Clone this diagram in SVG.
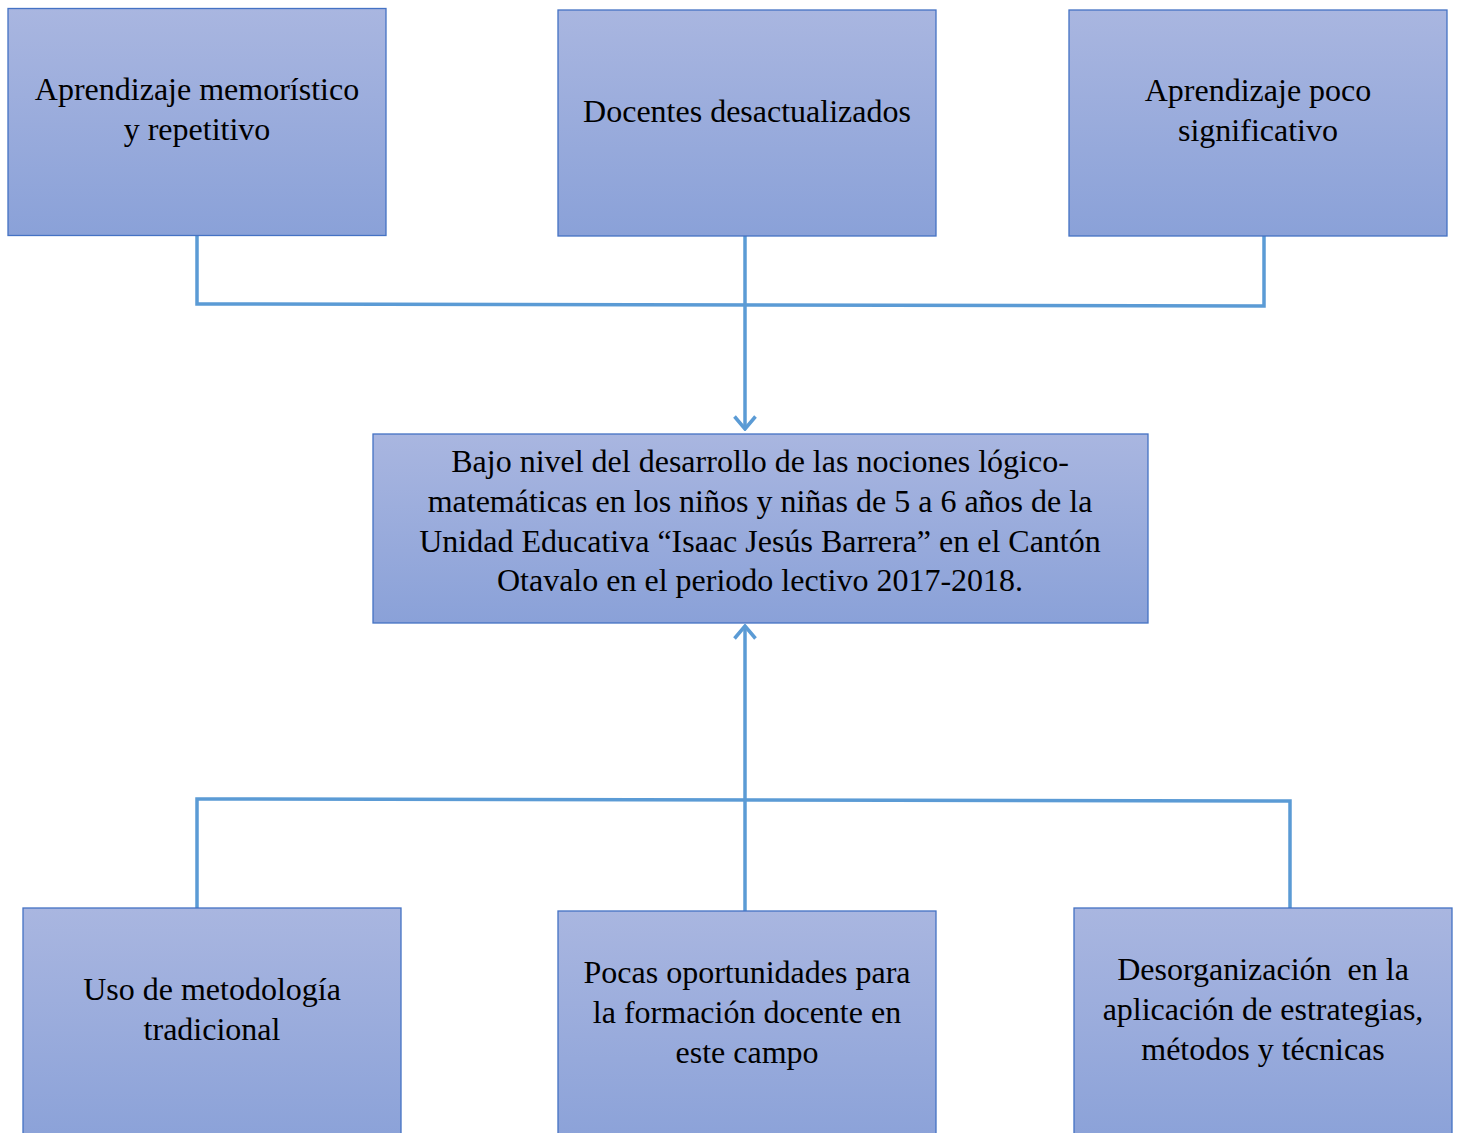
<svg xmlns="http://www.w3.org/2000/svg" width="1459" height="1133" viewBox="0 0 1459 1133">
<defs>
<linearGradient id="g" x1="0" y1="0" x2="0" y2="1">
<stop offset="0" stop-color="#A9B6E0"/>
<stop offset="1" stop-color="#8AA1D8"/>
</linearGradient>
<marker id="arr" viewBox="0 0 16 24" refX="14" refY="12" markerWidth="16" markerHeight="24" markerUnits="userSpaceOnUse" orient="auto">
<path d="M1.5,1.5 L14,12 L1.5,22.5" fill="none" stroke="#5B9BD5" stroke-width="3.5"/>
</marker>
<style>
.box{fill:url(#g);stroke:#4472C4;stroke-width:1.3}
.t{font-family:"Liberation Serif","Times New Roman",serif;font-size:32px;fill:#000;text-anchor:middle}
.c{fill:none;stroke:#5B9BD5;stroke-width:3.5}
</style>
</defs>
<rect width="1459" height="1133" fill="#fff"/>
<g id="connectors">
<polyline class="c" points="197,235 197,304 1264,306 1264,236"/>
<line class="c" x1="745" y1="236" x2="745" y2="429" marker-end="url(#arr)"/>
<polyline class="c" points="197,908 197,799 1290,801 1290,908"/>
<line class="c" x1="745" y1="911" x2="745" y2="626" marker-end="url(#arr)"/>
</g>
<g id="n1"><rect class="box" x="8" y="8.5" width="378" height="227"/>
<text class="t" x="197" y="100">Aprendizaje memorístico</text><text class="t" x="197" y="140">y repetitivo</text></g>
<g id="n2"><rect class="box" x="558" y="10" width="378" height="226"/>
<text class="t" x="747" y="122">Docentes desactualizados</text></g>
<g id="n3"><rect class="box" x="1069" y="10" width="378" height="226"/>
<text class="t" x="1258" y="101">Aprendizaje poco</text><text class="t" x="1258" y="141">significativo</text></g>
<g id="center"><rect class="box" x="373" y="434" width="775" height="189"/>
<text class="t" x="760" y="472">Bajo nivel del desarrollo de las nociones lógico-</text>
<text class="t" x="760" y="512">matemáticas en los niños y niñas de 5 a 6 años de la</text>
<text class="t" x="760" y="552">Unidad Educativa “Isaac Jesús Barrera” en el Cantón</text>
<text class="t" x="760" y="591">Otavalo en el periodo lectivo 2017-2018.</text></g>
<g id="n4"><rect class="box" x="23" y="908" width="378" height="240"/>
<text class="t" x="212" y="1000">Uso de metodología</text><text class="t" x="212" y="1040">tradicional</text></g>
<g id="n5"><rect class="box" x="558" y="911" width="378" height="240"/>
<text class="t" x="747" y="983">Pocas oportunidades para</text><text class="t" x="747" y="1023">la formación docente en</text><text class="t" x="747" y="1063">este campo</text></g>
<g id="n6"><rect class="box" x="1074" y="908" width="378" height="240"/>
<text class="t" x="1263" y="980" xml:space="preserve">Desorganización  en la</text><text class="t" x="1263" y="1020">aplicación de estrategias,</text><text class="t" x="1263" y="1060">métodos y técnicas</text></g>
</svg>
